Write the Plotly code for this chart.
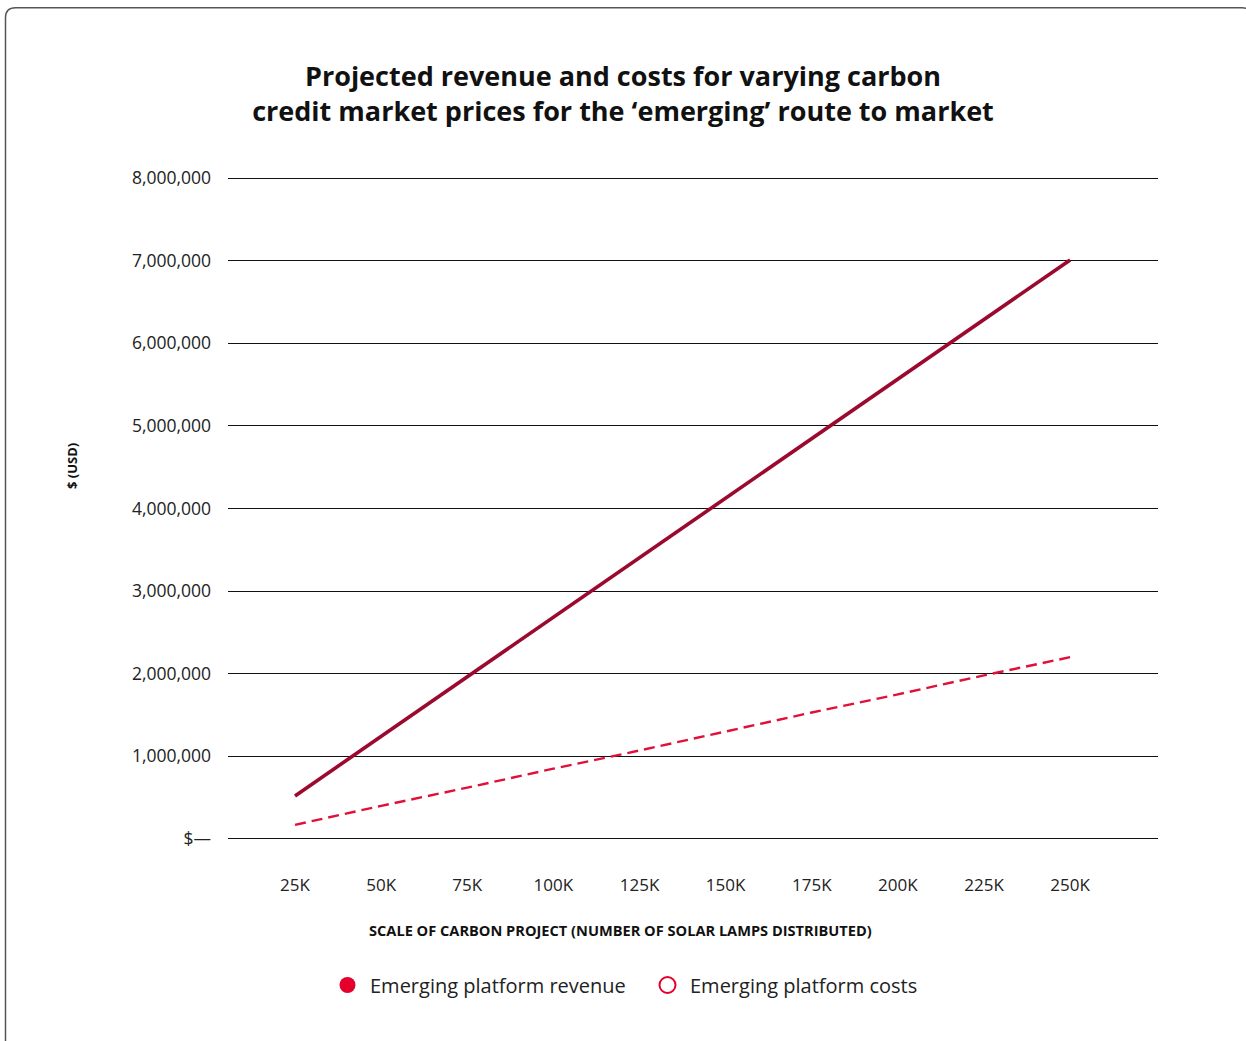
import plotly.graph_objects as go

# ---- data ----
lamps = [25000, 50000, 75000, 100000, 125000, 150000, 175000, 200000, 225000, 250000]
x_tick_labels = ["25K", "50K", "75K", "100K", "125K", "150K", "175K", "200K", "225K", "250K"]
revenue = [520000, 1240000, 1960000, 2680000, 3400000, 4120000, 4850000, 5570000, 6290000, 7010000]
costs = [170000, 400000, 620000, 850000, 1070000, 1300000, 1530000, 1750000, 1980000, 2200000]
y_tick_vals = [0, 1000000, 2000000, 3000000, 4000000, 5000000, 6000000, 7000000, 8000000]
y_tick_labels = ["$—", "1,000,000", "2,000,000", "3,000,000", "4,000,000",
                 "5,000,000", "6,000,000", "7,000,000", "8,000,000"]

W, H = 1246, 1041
PAD = 50000  # small padding so the 0 and 8M gridlines are drawn
px_per_unit = (839 - 178) / 8000000
pad_px = PAD * px_per_unit
L, R = 228, 1158
T, B = 178 - pad_px, 839 + pad_px
FONT = "Open Sans"

fig = go.Figure()
fig.add_trace(go.Scatter(x=lamps, y=revenue, mode="lines", name="Emerging platform revenue",
                         line=dict(color="#9b0a2e", width=3.6), showlegend=False))
fig.add_trace(go.Scatter(x=lamps, y=costs, mode="lines", name="Emerging platform costs",
                         line=dict(color="#e0103a", width=2.4, dash="11px,6px"), showlegend=False))
# legend entries
fig.add_trace(go.Scatter(x=[None], y=[None], mode="markers", name="Emerging platform revenue",
                         marker=dict(symbol="circle", size=22, color="#e4002b")))
fig.add_trace(go.Scatter(x=[None], y=[None], mode="markers", name="Emerging platform costs",
                         marker=dict(symbol="circle-open", size=19, color="#e4002b",
                                     line=dict(width=2, color="#e4002b"))))


def px_x(p):
    return (p - L) / (R - L)


def px_y(p):
    return (B - p) / (B - T)


# rounded page frame
x0, y0, x1, y1 = 5.5, 7.5, 1252, 1050
r = 10
path = (f"M {px_x(x0)},{px_y(y1)} L {px_x(x0)},{px_y(y0 + r)} "
        f"Q {px_x(x0)},{px_y(y0)} {px_x(x0 + r)},{px_y(y0)} "
        f"L {px_x(x1 - r)},{px_y(y0)} Q {px_x(x1)},{px_y(y0)} {px_x(x1)},{px_y(y0 + r)} "
        f"L {px_x(x1)},{px_y(y1)}")
fig.add_shape(type="path", path=path, xref="paper", yref="paper",
              line=dict(color="#555555", width=1.5), layer="above")

# axis titles (placed as in the original, not centred on the plot area)
fig.add_annotation(text="<b>SCALE OF CARBON PROJECT (NUMBER OF SOLAR LAMPS DISTRIBUTED)</b>",
                   xref="paper", yref="paper", x=px_x(620), y=px_y(930),
                   xanchor="center", yanchor="middle", showarrow=False,
                   font=dict(size=14.6, color="#111111", family=FONT))
fig.add_annotation(text="<b>$ (USD)</b>", textangle=-90,
                   xref="paper", yref="paper", x=px_x(72), y=px_y(466),
                   xanchor="center", yanchor="middle", showarrow=False,
                   font=dict(size=13, color="#111111", family=FONT))

span = 25000
fig.update_layout(
    width=W, height=H,
    margin=dict(l=L, r=W - R, t=T, b=H - B, autoexpand=False),
    paper_bgcolor="white", plot_bgcolor="white",
    font=dict(family=FONT, color="#222222"),
    title=dict(text="<b>Projected revenue and costs for varying carbon<br>credit market prices for the ‘emerging’ route to market</b>",
               x=0.5, xanchor="center", xref="container",
               y=1 - 86 / H, yanchor="middle", yref="container",
               font=dict(size=27, color="#111111", family=FONT)),
    xaxis=dict(range=[25000 - 0.778 * span, 25000 + 10.02 * span],
               tickvals=lamps, ticktext=x_tick_labels, showgrid=False, zeroline=False,
               showline=False, ticks="", ticklabelstandoff=30,
               tickfont=dict(size=17, color="#222222")),
    yaxis=dict(range=[-PAD, 8000000 + PAD], tickvals=y_tick_vals, ticktext=y_tick_labels,
               showgrid=True, gridcolor="#111111", gridwidth=1.2, zeroline=False,
               showline=False, ticks="", ticklabelstandoff=16,
               tickfont=dict(size=17.5, color="#222222")),
    legend=dict(orientation="h", x=0.5 + 22 / W, xanchor="center", xref="container",
                y=1 - 985 / H, yanchor="middle", yref="container",
                font=dict(size=20, color="#222222"), itemwidth=35,
                entrywidth=270, bgcolor="rgba(0,0,0,0)"),
    showlegend=True,
)

fig.write_html("out.html", post_script="document.body.style.margin='0';",
               config={"displayModeBar": False})
